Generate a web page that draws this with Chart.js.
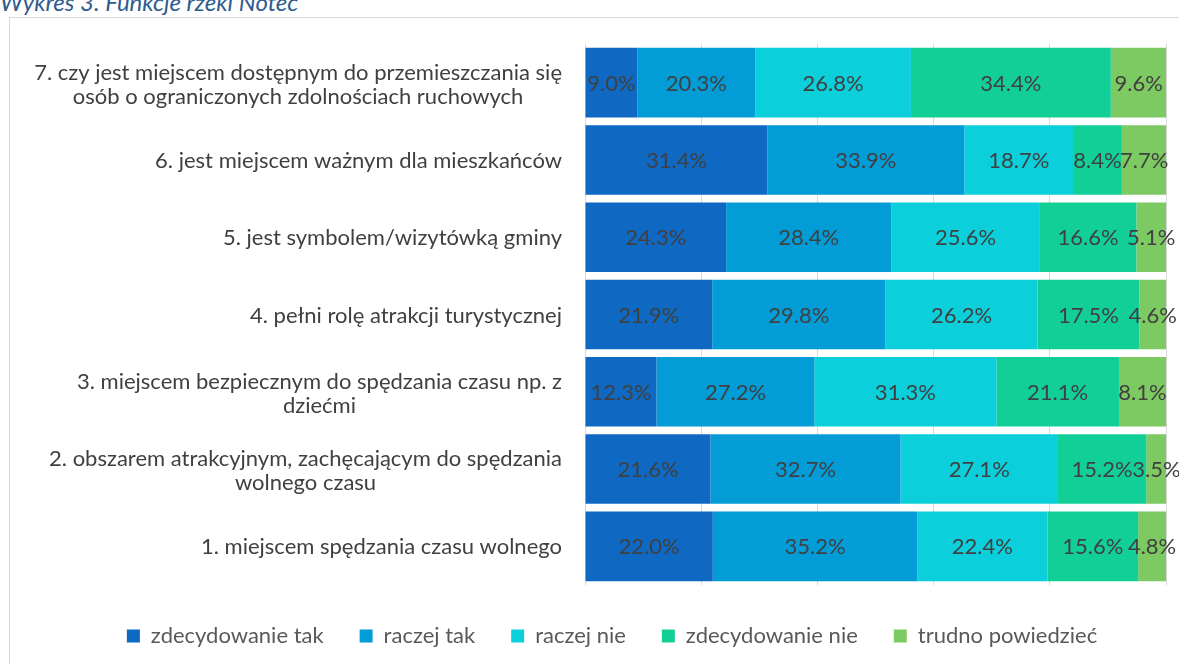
<!DOCTYPE html>
<html>
<head>
<meta charset="utf-8">
<script src="https://cdn.jsdelivr.net/npm/chart.js@4"></script>
<style>
  body { margin: 0; width: 1179px; height: 664px; overflow: hidden; background: #fff; font-family: Lato, sans-serif; }
  #title { position: absolute; left: 0; top: -10px; font-style: italic; font-size: 24px; line-height: 24px; color: #2F5C8F; white-space: nowrap; }
  #frame { position: absolute; left: 9px; top: 17px; width: 1200px; height: 700px; border: 1px solid #D9D9D9; }
  #wrap { position: absolute; left: 0; top: 0; width: 1179px; height: 664px; }
</style>
</head>
<body>
<div id="title">Wykres 3. Funkcje rzeki Noteć</div>
<div id="frame"></div>
<div id="wrap"><canvas id="chart"></canvas></div>
<script>
const categories = [
    ['7. czy jest miejscem dostępnym do przemieszczania się', 'osób o ograniczonych zdolnościach ruchowych'],
    '6. jest miejscem ważnym dla mieszkańców',
    '5. jest symbolem/wizytówką gminy',
    '4. pełni rolę atrakcji turystycznej',
    ['3. miejscem bezpiecznym do spędzania czasu np. z', 'dziećmi'],
    ['2. obszarem atrakcyjnym, zachęcającym do spędzania', 'wolnego czasu'],
    '1. miejscem spędzania czasu wolnego'
];

const seriesNames = ['zdecydowanie tak', 'raczej tak', 'raczej nie', 'zdecydowanie nie', 'trudno powiedzieć'];

const zdecydowanieTak = [9.0, 31.4, 24.3, 21.9, 12.3, 21.6, 22.0];
const raczejTak = [20.3, 33.9, 28.4, 29.8, 27.2, 32.7, 35.2];
const raczejNie = [26.8, 18.7, 25.6, 26.2, 31.3, 27.1, 22.4];
const zdecydowanieNie = [34.4, 8.4, 16.6, 17.5, 21.1, 15.2, 15.6];
const trudnoPowiedziec = [9.6, 7.7, 5.1, 4.6, 8.1, 3.5, 4.8];

const colors = ['#0F69C2', '#029CD7', '#0BCFDA', '#12CF98', '#7DC962'];

const seriesValues = [zdecydowanieTak, raczejTak, raczejNie, zdecydowanieNie, trudnoPowiedziec];

const FONT = 'Lato, sans-serif';

// value label in the middle of every bar segment
const segmentLabels = {
    id: 'segmentLabels',
    afterDatasetsDraw(chart) {
        const ctx = chart.ctx;
        ctx.save();
        ctx.font = '22px ' + FONT;
        ctx.fillStyle = '#404040';
        ctx.textAlign = 'center';
        ctx.textBaseline = 'middle';
        chart.data.datasets.forEach((ds, i) => {
            const meta = chart.getDatasetMeta(i);
            meta.data.forEach((bar, j) => {
                const p = bar.getProps(['x', 'y', 'base'], true);
                ctx.fillText(ds.data[j].toFixed(1) + '%', (p.x + p.base) / 2, p.y + 1);
            });
        });
        ctx.restore();
    }
};

// category labels: block right-aligned, lines centred inside the block (like Excel)
const categoryLabels = {
    id: 'categoryLabels',
    afterDraw(chart) {
        const ctx = chart.ctx;
        const yScale = chart.scales.y;
        const right = chart.chartArea.left - 23;
        const lineH = 24;
        ctx.save();
        ctx.font = '22px ' + FONT;
        ctx.fillStyle = '#404040';
        ctx.textAlign = 'center';
        ctx.textBaseline = 'middle';
        chart.data.labels.forEach((lab, i) => {
            const lines = Array.isArray(lab) ? lab : [lab];
            const w = Math.max(...lines.map(l => ctx.measureText(l).width));
            const cx = right - w / 2;
            const cy = yScale.getPixelForTick(i) + (lines.length > 1 ? 2 : 1);
            lines.forEach((l, k) => {
                ctx.fillText(l, cx, cy + (k - (lines.length - 1) / 2) * lineH);
            });
        });
        ctx.restore();
    }
};

new Chart(document.getElementById('chart'), {
    type: 'bar',
    data: {
        labels: categories,
        datasets: seriesValues.map((vals, i) => ({
            label: seriesNames[i],
            data: vals,
            backgroundColor: colors[i],
            borderWidth: 0,
            categoryPercentage: 1,
            barPercentage: 0.9
        }))
    },
    options: {
        indexAxis: 'y',
        responsive: true,
        maintainAspectRatio: false,
        animation: false,
        layout: {
            padding: { top: 44, left: 58, right: 13, bottom: 7 }
        },
        scales: {
            x: {
                stacked: true,
                min: 0,
                max: 100,
                ticks: { display: false, stepSize: 20 },
                grid: { color: '#D9D9D9', lineWidth: 1, drawTicks: false },
                border: { display: false },
                afterFit(scale) { scale.height = 4; }
            },
            y: {
                stacked: true,
                grid: { display: false },
                border: { display: false },
                ticks: { display: false },
                afterFit(scale) { scale.width = 527; }
            }
        },
        plugins: {
            legend: {
                position: 'bottom',
                labels: {
                    color: '#595959',
                    font: { family: FONT, size: 22 },
                    boxWidth: 13,
                    boxHeight: 13,
                    padding: 36
                }
            },
            tooltip: { enabled: false }
        }
    },
    plugins: [segmentLabels, categoryLabels]
});
</script>
</body>
</html>
